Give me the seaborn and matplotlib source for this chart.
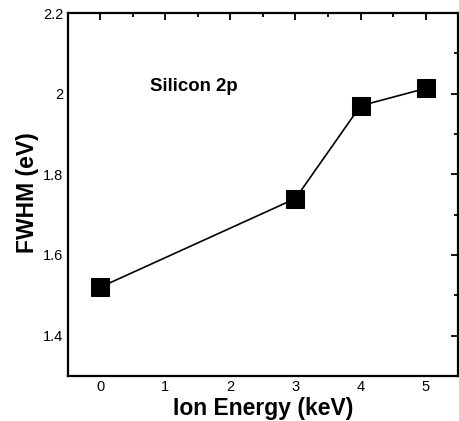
import matplotlib
matplotlib.use("Agg")
import matplotlib.pyplot as plt
from matplotlib.ticker import MultipleLocator
import seaborn as sns
import pandas as pd

# Measured FWHM of the Si 2p peak versus sputtering ion energy
ion_energy_kev = [0, 3, 4, 5]
fwhm_ev = [1.52, 1.74, 1.97, 2.013]

x_ticks = [0, 1, 2, 3, 4, 5]
y_ticks = [1.4, 1.6, 1.8, 2.0, 2.2]
y_tick_labels = ["1.4", "1.6", "1.8", "2", "2.2"]

sns.set_style("white")
plt.rcParams["font.family"] = ["Liberation Sans", "DejaVu Sans"]
plt.rcParams["text.color"] = "black"
plt.rcParams["axes.labelcolor"] = "black"

df = pd.DataFrame({"energy": ion_energy_kev, "fwhm": fwhm_ev})

fig = plt.figure(figsize=(4.6, 4.21), dpi=100)
ax = fig.add_axes([0.147, 0.107, 0.849, 0.862])

sns.lineplot(data=df, x="energy", y="fwhm", ax=ax, color="black",
             linewidth=1.2, marker="s", markersize=13,
             markerfacecolor="black", markeredgecolor="black")

ax.set_xlim(-0.5, 5.5)
ax.set_ylim(1.3, 2.2)
ax.set_xticks(x_ticks)
ax.set_xticklabels([str(t) for t in x_ticks])
ax.set_yticks(y_ticks)
ax.set_yticklabels(y_tick_labels)
ax.xaxis.set_minor_locator(MultipleLocator(0.5))
ax.yaxis.set_minor_locator(MultipleLocator(0.1))

ax.tick_params(which="both", direction="in", top=True, right=True,
               color="black", width=1.3, labelsize=10.5, labelcolor="black")
ax.tick_params(which="major", length=5, pad=3)
ax.tick_params(which="minor", length=3)

for spine in ax.spines.values():
    spine.set_visible(True)
    spine.set_color("black")
    spine.set_linewidth(1.6)

ax.set_xlabel("Ion Energy (keV)", fontsize=16.5, fontweight="bold",
              labelpad=2, color="black")
ax.set_ylabel("FWHM (eV)", fontsize=16.5, fontweight="bold", color="black")
ax.yaxis.set_label_coords(-0.073, 0.504)

ax.text(0.76, 2.018, "Silicon 2p", fontsize=13.4, fontweight="bold",
        ha="left", va="center", color="black")

fig.savefig("out.png", dpi=100)
